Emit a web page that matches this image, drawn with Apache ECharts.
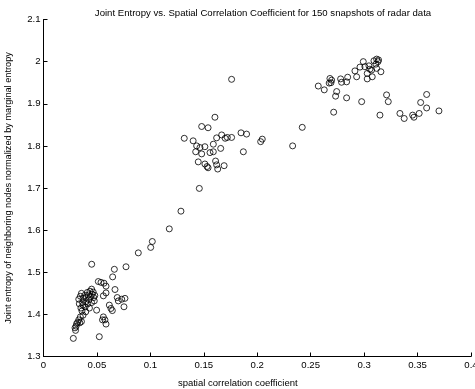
<!DOCTYPE html>
<html>
<head>
<meta charset="utf-8">
<script src="https://cdn.jsdelivr.net/npm/echarts@6/dist/echarts.min.js"></script>
<style>
  html, body { margin: 0; padding: 0; background: #fff; }
  #chart { width: 475px; height: 389px; }
</style>
</head>
<body>
<div id="chart"></div>
<script>
// points, [spatial correlation, normalized joint entropy]
var lowCluster = [
  [0.0279, 1.343], [0.0451, 1.519], [0.0522, 1.347], [0.0772, 1.513], [0.0663, 1.507],
  [0.0647, 1.489], [0.0513, 1.478], [0.0538, 1.476], [0.0566, 1.474], [0.0585, 1.467],
  [0.0669, 1.459], [0.0560, 1.444], [0.0585, 1.451], [0.0690, 1.440], [0.0700, 1.432],
  [0.0762, 1.438], [0.0732, 1.436], [0.0753, 1.418], [0.0616, 1.422], [0.0631, 1.414],
  [0.0644, 1.409], [0.0560, 1.394], [0.0575, 1.387], [0.0585, 1.377], [0.0552, 1.387],
  [0.0497, 1.410], [0.0300, 1.362], [0.0295, 1.368], [0.0305, 1.372], [0.0310, 1.378],
  [0.0320, 1.381], [0.0340, 1.380], [0.0355, 1.383], [0.0330, 1.387], [0.0345, 1.394],
  [0.0370, 1.398], [0.0360, 1.408], [0.0395, 1.406], [0.0350, 1.415], [0.0335, 1.425],
  [0.0370, 1.422], [0.0330, 1.436], [0.0345, 1.443], [0.0355, 1.450], [0.0370, 1.438],
  [0.0385, 1.445], [0.0395, 1.430], [0.0400, 1.440], [0.0410, 1.452], [0.0420, 1.446],
  [0.0425, 1.435], [0.0435, 1.455], [0.0440, 1.442], [0.0450, 1.460], [0.0455, 1.448],
  [0.0465, 1.453], [0.0470, 1.440], [0.0480, 1.445], [0.0415, 1.425], [0.0450, 1.428],
  [0.0390, 1.418], [0.0430, 1.415], [0.0475, 1.432], [0.0365, 1.428]
];
var midCluster = [
  [0.0887, 1.546], [0.1003, 1.559], [0.1018, 1.573], [0.1177, 1.603], [0.1286, 1.645],
  [0.1458, 1.699], [0.1604, 1.868], [0.1480, 1.846], [0.1540, 1.843], [0.1317, 1.818],
  [0.1400, 1.812], [0.1620, 1.819], [0.1667, 1.826], [0.1700, 1.818], [0.1720, 1.820],
  [0.1760, 1.820], [0.1433, 1.800], [0.1464, 1.796], [0.1510, 1.798], [0.1589, 1.804],
  [0.1424, 1.786], [0.1480, 1.781], [0.1558, 1.784], [0.1589, 1.786], [0.1658, 1.794],
  [0.1448, 1.762], [0.1510, 1.757], [0.1530, 1.751], [0.1540, 1.748], [0.1610, 1.764],
  [0.1620, 1.755], [0.1630, 1.745], [0.1690, 1.753], [0.1760, 1.958], [0.1848, 1.831],
  [0.1900, 1.828], [0.1870, 1.786], [0.2032, 1.810], [0.2047, 1.816], [0.2331, 1.800],
  [0.2421, 1.844]
];
var highCluster = [
  [0.2571, 1.942], [0.2627, 1.933], [0.2680, 1.960], [0.2696, 1.956], [0.2673, 1.949],
  [0.2690, 1.950], [0.2743, 1.929], [0.2733, 1.918], [0.2715, 1.880], [0.2780, 1.959],
  [0.2789, 1.951], [0.2836, 1.952], [0.2846, 1.963], [0.2836, 1.914], [0.2914, 1.978],
  [0.2930, 1.964], [0.2961, 1.987], [0.2992, 2.000], [0.3007, 1.988], [0.3029, 1.972],
  [0.3029, 1.959], [0.3054, 1.982], [0.3070, 1.980], [0.3076, 1.964], [0.3092, 2.002],
  [0.3117, 2.006], [0.3130, 2.000], [0.3110, 1.994], [0.3117, 1.984], [0.3157, 1.976],
  [0.2977, 1.905], [0.3148, 1.873], [0.3210, 1.921], [0.3226, 1.905], [0.3335, 1.877],
  [0.3375, 1.865], [0.3454, 1.873], [0.3466, 1.868], [0.3515, 1.877], [0.3529, 1.903],
  [0.3585, 1.922], [0.3585, 1.890], [0.3700, 1.883], [0.3135, 2.004], [0.3045, 1.990]
];
var allPoints = lowCluster.concat(midCluster, highCluster);

var font = 'Liberation Sans, Arial, Helvetica, sans-serif';

var chart = echarts.init(document.getElementById('chart'));
chart.setOption({
  animation: false,
  backgroundColor: '#fff',
  title: {
    text: 'Joint Entropy vs. Spatial Correlation Coefficient for 150 snapshots of radar data',
    left: 258,
    textAlign: 'center',
    top: 3,
    textStyle: { fontFamily: font, fontSize: 9.6, fontWeight: 'normal', color: '#000' }
  },
  grid: { left: 43.5, right: 4, top: 19.5, bottom: 32.5, outerBoundsMode: 'none', containLabel: false },
  xAxis: {
    type: 'value',
    min: 0,
    max: 0.4,
    interval: 0.05,
    name: 'spatial correlation coefficient',
    nameLocation: 'middle',
    nameGap: 22,
    nameTextStyle: { fontFamily: font, fontSize: 9.5, color: '#000', padding: [0, 39, 0, 0] },
    axisLine: { lineStyle: { color: '#000', width: 1 } },
    axisTick: { inside: true, length: 4, lineStyle: { color: '#000' } },
    axisLabel: { fontFamily: font, fontSize: 9.6, color: '#000', margin: 4 },
    splitLine: { show: false }
  },
  yAxis: {
    type: 'value',
    min: 1.3,
    max: 2.1,
    interval: 0.1,
    name: 'Joint entropy of neighboring nodes normalized by marginal entropy',
    nameLocation: 'middle',
    nameGap: 31,
    nameTextStyle: { fontFamily: font, fontSize: 9.2, color: '#000' },
    axisLine: { lineStyle: { color: '#000', width: 1 } },
    axisTick: { inside: true, length: 4, lineStyle: { color: '#000' } },
    axisLabel: { fontFamily: font, fontSize: 9.6, color: '#000', margin: 3 },
    splitLine: { show: false }
  },
  series: [{
    type: 'scatter',
    data: allPoints,
    symbol: 'circle',
    symbolSize: 6,
    itemStyle: { color: 'rgba(255,255,255,0)', borderColor: '#000', borderWidth: 1 }
  }]
});
</script>
</body>
</html>
